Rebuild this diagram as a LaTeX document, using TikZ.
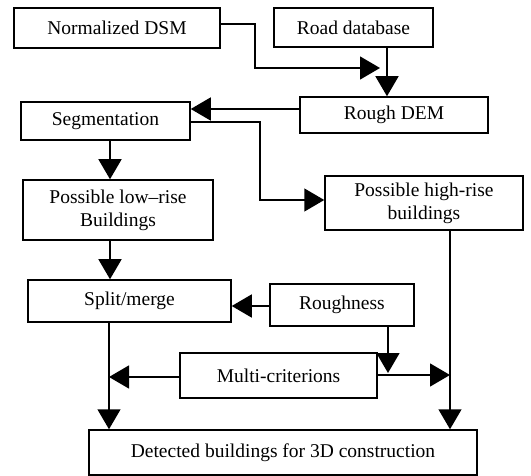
\documentclass[tikz,border=0pt]{standalone}
\usepackage{fontspec}
\setmainfont{Liberation Serif}
\usetikzlibrary{arrows.meta}

\begin{document}
\begin{tikzpicture}[x=1pt, y=-1pt, line width=1.5pt,
    >={Triangle[width=23pt,length=20pt]},
    box/.style={draw, align=center, inner sep=1pt,
      font=\fontsize{19.5}{23}\selectfont}]
  \useasboundingbox (0,0) rectangle (531,476);

  \node [box, minimum width=206pt, minimum height=40pt] (1) at (117,28) {Normalized DSM};
  \node [box, minimum width=159pt, minimum height=39pt] (2) at (353.5,27.5) {Road database};
  \node [box, minimum width=188pt, minimum height=36pt] (3) at (394,115) {Rough DEM};
  \node [box, minimum width=169pt, minimum height=38pt] (4) at (105.5,121) {Segmentation};
  \node [box, minimum width=190pt, minimum height=60pt] (5) at (118,210) {Possible low--rise\\Buildings};
  \node [box, minimum width=198pt, minimum height=54pt] (6) at (424,203) {Possible high-rise\\buildings};
  \node [box, minimum width=203pt, minimum height=42pt] (7) at (129.5,301) {Split/merge};
  \node [box, minimum width=144pt, minimum height=42pt] (8) at (342,305) {Roughness};
  \node [box, minimum width=197pt, minimum height=45pt] (9) at (278.5,375.5) {Multi-criterions};
  \node [box, minimum width=388pt, minimum height=45pt] (10) at (283,452.5) {Detected buildings for 3D construction};

  \coordinate (a) at (387,68);
  \coordinate (b) at (450,375);
  \coordinate (c) at (109,377);
  \coordinate (d) at (110,0);

  \draw[->] ([yshift=4pt]1.east) -| (255,68) -- ([xshift=-7pt]a);
  \draw[->] (2.south -| a) -- (3.north -| a);
  \draw[->] ([yshift=6pt]3.west) -- ([yshift=6pt]3.west -| 4.east);
  \draw[->] ([yshift=-1pt]4.east) -| (260,200) -- (6.west |- 0,200);
  \draw[->] (4.south -| d) -- (5.north -| d);
  \draw[->] (5.south -| d) -- (7.north -| d);
  \draw[->] ([yshift=-1pt]8.west) -- ([yshift=-1pt]8.west -| 7.east);
  \draw[->] (6.south -| b) -- (10.north -| b);
  \draw[->] (388,326) -- (388,373);
  \draw[->] (9.west |- c) -- (c);
  \draw[->] (9.east |- b) -- (b);
  \draw[->] (7.south -| c) -- (10.north -| c);
\end{tikzpicture}
\end{document}
